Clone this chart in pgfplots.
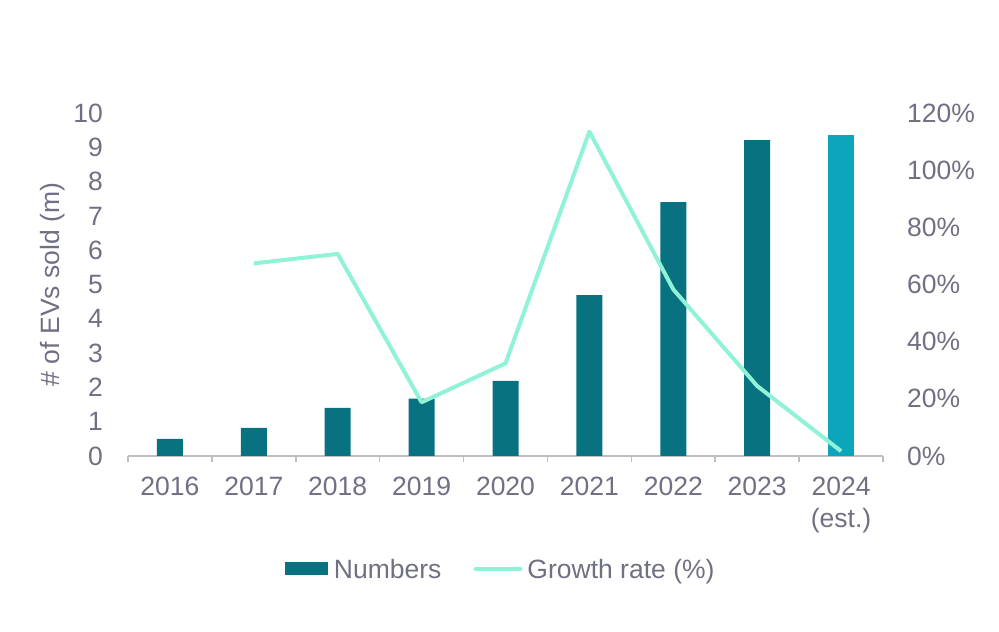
\documentclass[border=0pt]{standalone}
\usepackage{pgfplots}
\pgfplotsset{compat=1.18}
\usepackage{fontspec}
\setmainfont{Liberation Sans}
\definecolor{barcol}{RGB}{8,114,128}
\definecolor{estcol}{RGB}{11,166,187}
\definecolor{linecol}{RGB}{144,242,214}
\definecolor{txtgray}{RGB}{112,112,132}
\definecolor{axgray}{RGB}{191,191,191}
\newcommand{\cf}{\fontsize{26.5}{32}\selectfont}
\begin{document}
\begin{tikzpicture}
\path[use as bounding box] (0,0) rectangle (999pt,632pt);
\begin{axis}[
 at={(128pt,176pt)}, anchor=south west,
 scale only axis, width=755pt, height=343pt,
 xmin=-0.5, xmax=8.5, ymin=0, ymax=10,
 axis x line*=bottom, axis y line*=left,
 y axis line style={draw=none},
 x axis line style={axgray, line width=1.5pt},
 xtick={0,...,8},
 xticklabels={2016,2017,2018,2019,2020,2021,2022,2023,{2024\\(est.)}},
 minor xtick={-0.5,0.5,...,8.5},
 ytick={0,1,...,10},
 tick align=outside, major tick length=0pt, minor tick length=6pt,
 minor x tick style={axgray, line width=1.5pt},
 major tick style={draw=none},
 x tick label style={font=\cf, text=txtgray, align=center, anchor=north, inner sep=0pt, yshift=-21pt},
 y tick label style={font=\cf, text=txtgray, anchor=east, inner sep=0pt, xshift=-25pt},
 /pgf/number format/assume math mode=true,
 ylabel={\# of EVs sold (m)},
 every axis y label/.style={at={(axis description cs:-0.0993,0.5)}, anchor=center, rotate=90, font=\cf, text=txtgray},
 ybar, bar width=26pt, bar shift=0pt,
]
\addplot[fill=barcol, draw=none] coordinates {(0,0.50) (1,0.82) (2,1.40) (3,1.67) (4,2.19) (5,4.69) (6,7.40) (7,9.21)};
\addplot[fill=estcol, draw=none] coordinates {(8,9.37)};
\end{axis}
\begin{axis}[
 at={(128pt,176pt)}, anchor=south west,
 scale only axis, width=755pt, height=343pt,
 xmin=-0.5, xmax=8.5, ymin=0, ymax=120,
 axis x line=none, axis y line*=right, y axis line style={draw=none},
 ytick={0,20,...,120}, yticklabel={\pgfmathprintnumber{\tick}\%},
 major tick length=0pt, major tick style={draw=none},
 y tick label style={font=\cf, text=txtgray, anchor=west, inner sep=0pt, xshift=24pt},
 /pgf/number format/assume math mode=true,
 clip=false,
 legend style={at={(0.4937,-0.332)}, anchor=center, draw=none, fill=none, font=\cf, text=txtgray, legend columns=2, /tikz/every even column/.append style={column sep=30pt}},
 legend cell align=left,
]
\addlegendimage{fill=barcol, draw=none, legend image code/.code={\fill[barcol] (0pt,-5.5pt) rectangle (43pt,7.5pt);}}
\addlegendentry{\hspace{4pt}Numbers}
\addplot[linecol, line width=4pt, line join=round, legend image code/.code={\draw[linecol, line width=4pt, line cap=round] (2pt,1pt) -- (47pt,1pt);}] coordinates {(1,67.4) (2,70.7) (3,18.8) (4,32.4) (5,113.5) (6,58.3) (7,24.5) (8,1.7)};
\addlegendentry{\hspace{3pt}Growth rate (\%)}
\end{axis}
\end{tikzpicture}
\end{document}
